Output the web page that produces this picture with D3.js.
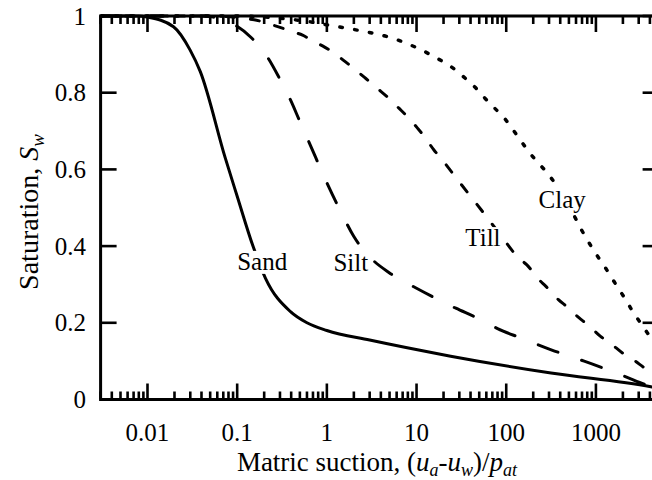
<!DOCTYPE html>
<html><head><meta charset="utf-8">
<script src="https://cdn.jsdelivr.net/npm/d3@7/dist/d3.min.js"></script>
<style>
html,body{margin:0;padding:0;background:#fff;}
svg text{font-family:"Liberation Serif","Times New Roman",serif;fill:#000;}
</style></head>
<body>
<svg id="chart" width="652" height="480"></svg>
<script>
// ---- data ----
const sandSuction = [0.003, 0.008, 0.01, 0.0195, 0.0299, 0.0388, 0.0736, 0.1, 0.15, 0.207, 0.393, 0.6, 1, 3, 24, 316, 4100, 5000];
const sandSat     = [1, 1, 0.997, 0.972, 0.911, 0.855, 0.63, 0.53, 0.40, 0.316, 0.229, 0.20, 0.18, 0.155, 0.113, 0.069, 0.033, 0.029];

const siltSuction = [0.003, 0.04, 0.08, 0.14, 0.216, 0.297, 0.393, 0.5, 0.63, 1, 1.5, 2, 3, 5, 10, 27.4, 47.9, 80, 139, 243, 425, 740, 1236, 2160, 3770, 5000];
const siltSat     = [1, 1, 0.985, 0.946, 0.894, 0.837, 0.781, 0.725, 0.672, 0.565, 0.48, 0.425, 0.372, 0.33, 0.29, 0.238, 0.212, 0.185, 0.162, 0.140, 0.119, 0.100, 0.081, 0.059, 0.037, 0.028];

const tillSuction = [0.003, 0.05, 0.155, 0.26, 0.415, 0.536, 0.72, 0.895, 1.21, 1.56, 2.1, 2.72, 3.67, 4.67, 6.4, 7.94, 10.3, 12.2, 15.7, 18.7, 31, 52, 87, 139, 170, 233, 277, 379, 474, 641, 820, 1136, 1442, 2014, 2455, 3400, 4315, 5000];
const tillSat     = [1, 1, 0.99, 0.975, 0.959, 0.950, 0.933, 0.922, 0.903, 0.883, 0.859, 0.837, 0.811, 0.790, 0.759, 0.737, 0.707, 0.686, 0.650, 0.629, 0.563, 0.496, 0.428, 0.368, 0.351, 0.312, 0.295, 0.261, 0.242, 0.214, 0.194, 0.164, 0.147, 0.120, 0.108, 0.084, 0.066, 0.055];

const claySuction = [0.003, 0.1, 0.3, 0.6, 1.06, 2.2, 4.75, 8.65, 15.7, 26.2, 34, 45, 58.2, 73.3, 97.3, 121, 143, 176, 210, 300, 500, 700, 1040, 1256, 1492, 1813, 2153, 2490, 3027, 3690, 4275, 5000];
const claySat     = [1, 1, 0.994, 0.986, 0.976, 0.963, 0.946, 0.924, 0.894, 0.862, 0.840, 0.814, 0.785, 0.761, 0.731, 0.701, 0.677, 0.648, 0.626, 0.585, 0.505, 0.44, 0.374, 0.346, 0.318, 0.287, 0.260, 0.235, 0.205, 0.176, 0.155, 0.135];

const xMajorTicks = [0.01, 0.1, 1, 10, 100, 1000];
const xTickLabels = ["0.01", "0.1", "1", "10", "100", "1000"];
const yTicks = [0, 0.2, 0.4, 0.6, 0.8, 1];
const yTickLabels = ["0", "0.2", "0.4", "0.6", "0.8", "1"];

const soilNames = ["Sand", "Silt", "Till", "Clay"];
const labelAt = [[0.19, 0.338], [1.85, 0.335], [55, 0.40], [420, 0.50]]; // label anchor in data units

// ---- layout ----
const svg = d3.select("#chart");
const m = {left: 100.6, right: 658.6, top: 16, bottom: 399.5};
const x = d3.scaleLog().domain([0.003, 5000]).range([m.left, m.right]);
const y = d3.scaleLinear().domain([0, 1]).range([m.bottom, m.top]);

svg.append("defs").append("clipPath").attr("id", "clip")
  .append("rect").attr("x", m.left).attr("y", m.top - 2).attr("width", m.right - m.left).attr("height", m.bottom - m.top + 4);

const minor = [];
for (let e = -3; e <= 3; e++) for (let k = 1; k <= 9; k++) {
  const v = k * Math.pow(10, e);
  if (v >= 0.003 && v <= 5000 && k !== 1) minor.push(v);
}

const axisW = 3, tickW = 2.6, majL = 16, minL = 8;
const g = svg.append("g");
g.selectAll(".bmin").data(minor).join("line")
  .attr("x1", d => x(d)).attr("x2", d => x(d)).attr("y1", m.bottom).attr("y2", m.bottom - minL)
  .attr("stroke", "#000").attr("stroke-width", tickW);
g.selectAll(".bmaj").data(xMajorTicks).join("line")
  .attr("x1", d => x(d)).attr("x2", d => x(d)).attr("y1", m.bottom).attr("y2", m.bottom - majL)
  .attr("stroke", "#000").attr("stroke-width", tickW);
g.selectAll(".tmin").data(minor).join("line")
  .attr("x1", d => x(d)).attr("x2", d => x(d)).attr("y1", m.top).attr("y2", m.top + minL)
  .attr("stroke", "#000").attr("stroke-width", tickW);
g.selectAll(".tmaj").data(xMajorTicks).join("line")
  .attr("x1", d => x(d)).attr("x2", d => x(d)).attr("y1", m.top).attr("y2", m.top + majL)
  .attr("stroke", "#000").attr("stroke-width", tickW);
g.selectAll(".lt").data(yTicks).join("line")
  .attr("x1", m.left).attr("x2", m.left + majL).attr("y1", d => y(d)).attr("y2", d => y(d))
  .attr("stroke", "#000").attr("stroke-width", tickW);
g.selectAll(".rt").data(yTicks).join("line")
  .attr("x1", m.right).attr("x2", m.right - majL).attr("y1", d => y(d)).attr("y2", d => y(d))
  .attr("stroke", "#000").attr("stroke-width", tickW);

svg.append("rect").attr("x", m.left).attr("y", m.top).attr("width", m.right - m.left).attr("height", m.bottom - m.top)
  .attr("fill", "none").attr("stroke", "#000").attr("stroke-width", axisW);

const fs = 25;
svg.selectAll(".xl").data(xMajorTicks).join("text")
  .attr("x", d => x(d)).attr("y", 441).attr("text-anchor", "middle").attr("font-size", fs)
  .text((d, i) => xTickLabels[i]);
svg.selectAll(".yl").data(yTicks).join("text")
  .attr("x", 86).attr("y", d => y(d) + 8.5).attr("text-anchor", "end").attr("font-size", fs)
  .text((d, i) => yTickLabels[i]);

const series = [
  {s: sandSuction, v: sandSat, dash: null, w: 3},
  {s: siltSuction, v: siltSat, dash: "21,25", w: 3},
  {s: tillSuction, v: tillSat, dash: "9,16", w: 3},
  {s: claySuction, v: claySat, dash: "2.5,12.5", w: 3.5}
];
const line = d3.line().x(d => x(d[0])).y(d => y(d[1])).curve(d3.curveMonotoneX);
const cg = svg.append("g").attr("clip-path", "url(#clip)");
series.forEach(sr => {
  const pts = sr.s.map((d, i) => [d, sr.v[i]]);
  cg.append("path").attr("d", line(pts)).attr("fill", "none").attr("stroke", "#000")
    .attr("stroke-width", sr.w).attr("stroke-linecap", sr.dash ? "round" : "butt")
    .attr("stroke-dasharray", sr.dash);
});

// series labels on white boxes
const lg = svg.append("g");
soilNames.forEach((name, i) => {
  const t = lg.append("text").attr("x", x(labelAt[i][0])).attr("y", y(labelAt[i][1]))
    .attr("text-anchor", "middle").attr("font-size", fs).text(name);
  const bb = t.node().getBBox();
  lg.insert("rect", "text").attr("x", bb.x - 2).attr("y", bb.y + 3).attr("width", bb.width + 4).attr("height", bb.height - 4)
    .attr("fill", "#fff");
});

const tfs = 27, sfs = 18;
const xt = svg.append("text").attr("x", 377).attr("y", 471).attr("text-anchor", "middle").attr("font-size", tfs);
xt.append("tspan").text("Matric suction, (");
xt.append("tspan").attr("font-style", "italic").text("u");
xt.append("tspan").attr("font-style", "italic").attr("font-size", sfs).attr("dy", 4.5).text("a");
xt.append("tspan").attr("dy", -4.5).text("-");
xt.append("tspan").attr("font-style", "italic").text("u");
xt.append("tspan").attr("font-style", "italic").attr("font-size", sfs).attr("dy", 4.5).text("w");
xt.append("tspan").attr("dy", -4.5).text(")/");
xt.append("tspan").attr("font-style", "italic").text("p");
xt.append("tspan").attr("font-style", "italic").attr("font-size", sfs).attr("dy", 4.5).text("at");

const yt = svg.append("text").attr("transform", "translate(38,212) rotate(-90)").attr("text-anchor", "middle").attr("font-size", 28);
yt.append("tspan").text("Saturation, ");
yt.append("tspan").attr("font-style", "italic").text("S");
yt.append("tspan").attr("font-style", "italic").attr("font-size", 19).attr("dy", 6).text("w");
</script>
</body></html>
